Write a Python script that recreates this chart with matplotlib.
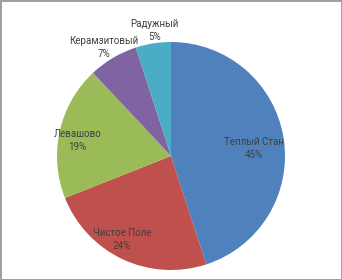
import numpy as np
import matplotlib
matplotlib.use("Agg")
import matplotlib.pyplot as plt

names = ["Теплый Стан", "Чистое Поле", "Левашово", "Керамзитовый", "Радужный"]
shares = [45, 24, 19, 7, 5]
colors = ["#4F81BD", "#C0504D", "#9BBB59", "#8064A2", "#4BACC6"]
# label placement as Excel "best fit" put it: distance in radii, turn from slice middle in degrees
label_dist = [0.73, 0.85, 0.83, 1.12, 1.11]
label_turn = [-3.8, -5.1, 3.4, 1.0, -1.3]

fig = plt.figure(figsize=(3.42, 2.80), dpi=100)
fig.patch.set_edgecolor("#a0a0a0")
fig.patch.set_linewidth(2)

ax = fig.add_axes([57 / 342, 10 / 280, 228 / 342, 228 / 280])
wedges, _ = ax.pie(shares, colors=colors, startangle=90, counterclock=False,
                   wedgeprops=dict(linewidth=0))
ax.set_xlim(-1, 1)
ax.set_ylim(-1, 1)
ax.set_aspect("equal")

for w, name, share, d, turn in zip(wedges, names, shares, label_dist, label_turn):
    theta = np.deg2rad((w.theta1 + w.theta2) / 2 + turn)
    ax.text(d * np.cos(theta), d * np.sin(theta), f"{name}\n{share}%",
            ha="center", va="center", fontsize=7, color="#404040",
            family=["Roboto", "DejaVu Sans"], linespacing=1.35)

fig.savefig("out.png", dpi=100)
